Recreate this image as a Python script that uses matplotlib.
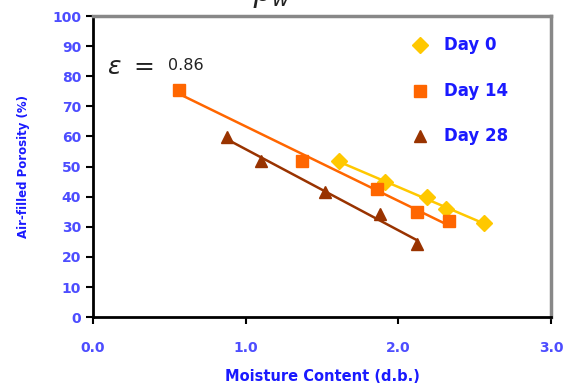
import matplotlib
matplotlib.use("Agg")
import matplotlib.pyplot as plt
import numpy as np

# data
day0_x = [1.61, 1.91, 2.19, 2.31, 2.56]
day0_y = [51.8, 44.8, 39.8, 35.8, 31.3]
day14_x = [0.56, 1.37, 1.86, 2.12, 2.33]
day14_y = [75.5, 51.8, 42.5, 35.0, 31.8]
day28_x = [0.88, 1.10, 1.52, 1.88, 2.12]
day28_y = [59.8, 51.7, 41.6, 34.2, 24.2]
labels = ["Day 0", "Day 14", "Day 28"]
eps_text = "0.86"

c0 = "#ffc800"
c14 = "#ff6600"
c28 = "#993300"
blue = "#1a1aff"
tickblue = "#4d4dff"

fig = plt.figure(figsize=(5.67, 3.92), dpi=100)
ax = fig.add_axes([0.164, 0.191, 0.808, 0.768])

series = [(day0_x, day0_y, c0, "D", 8), (day14_x, day14_y, c14, "s", 8), (day28_x, day28_y, c28, "^", 8)]
for xs, ys, col, mk, ms in series:
    k, b = np.polyfit(xs, ys, 1)
    xx = np.array([min(xs), max(xs)])
    ax.plot(xx, k * xx + b, color=col, lw=1.8, zorder=2)
    ax.plot(xs, ys, ls="none", marker=mk, color=col, ms=ms, zorder=3)

ax.set_xlim(0, 3)
ax.set_ylim(0, 100)
ax.set_xticks([0, 1, 2, 3])
ax.set_xticklabels(["0.0", "1.0", "2.0", "3.0"])
ax.set_yticks(range(0, 101, 10))
for lab in ax.get_xticklabels() + ax.get_yticklabels():
    lab.set_color(tickblue)
    lab.set_fontweight("bold")
    lab.set_fontsize(10)
ax.tick_params(direction="out", length=5, width=1.5, color="black")
ax.tick_params(axis="x", pad=12)

for s in ["left", "bottom"]:
    ax.spines[s].set_linewidth(2)
    ax.spines[s].set_color("black")
for s in ["top", "right"]:
    ax.spines[s].set_linewidth(2.5)
    ax.spines[s].set_color("#888888")

ax.set_xlabel("Moisture Content (d.b.)", color=blue, fontsize=10.5, fontweight="bold", labelpad=10)
ax.set_ylabel("Air-filled Porosity (%)", color=blue, fontsize=8.5, fontweight="bold", labelpad=16)

# legend drawn as text rows
leg_y = [90.5, 75, 60]
for (xs, ys, col, mk, ms), lab, yy in zip(series, labels, leg_y):
    ax.plot([2.14], [yy], ls="none", marker=mk, color=col, ms=8, clip_on=False)
    ax.text(2.3, yy, lab, color=blue, fontsize=12, fontweight="bold", va="center")

ax.text(0.09, 83, r"$\varepsilon\ =$", fontsize=18, va="center", color="#222222")
ax.text(0.49, 83.5, eps_text, fontsize=11.5, va="center", color="#222222")

# top of a formula cut by the image edge
fig.text(0.445, 0.975, r"$\rho_w$", fontsize=22, va="bottom", color="#222222")

fig.savefig("out.png", dpi=100)
